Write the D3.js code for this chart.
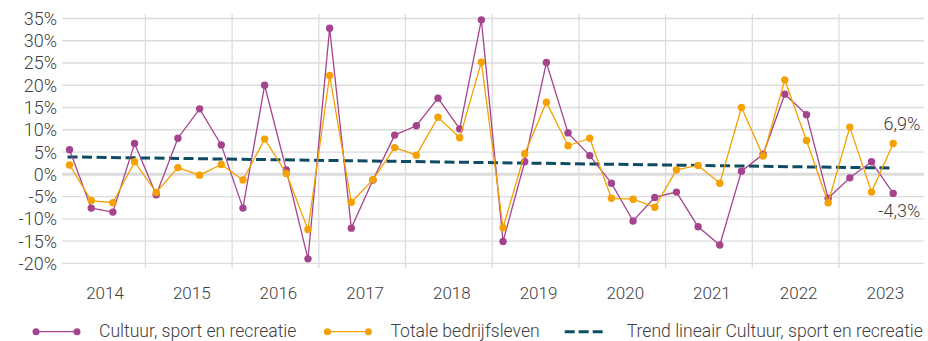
<!DOCTYPE html>
<html>
<head>
<meta charset="utf-8">
<script src="https://cdn.jsdelivr.net/npm/d3@7/dist/d3.min.js"></script>
<style>
  html, body { margin: 0; padding: 0; background: #fff; }
  svg { display: block; font-family: Roboto, "Noto Sans", sans-serif; }
</style>
</head>
<body>
<svg id="chart" width="928" height="341"></svg>
<script>
// Years shown on the category axis; each year holds four quarters
const years = [2014, 2015, 2016, 2017, 2018, 2019, 2020, 2021, 2022, 2023];
const quarters = ["Q1", "Q2", "Q3", "Q4"];

// Quarterly change (%) — Cultuur, sport en recreatie (2014 Q1 .. 2023 Q3)
const cultuur = [
  5.5, -7.6, -8.5, 6.9,
  -4.6, 8.1, 14.7, 6.6,
  -7.6, 20.0, 1.0, -19.0,
  32.8, -12.1, -1.3, 8.8,
  10.9, 17.1, 10.2, 34.7,
  -15.1, 2.8, 25.1, 9.3,
  4.2, -2.0, -10.5, -5.2,
  -4.0, -11.8, -15.9, 0.7,
  4.5, 18.0, 13.4, -5.4,
  -0.8, 2.8, -4.3
];

// Quarterly change (%) — Totale bedrijfsleven
const totaal = [
  2.1, -5.9, -6.4, 2.8,
  -4.1, 1.5, -0.2, 2.2,
  -1.3, 7.9, 0.2, -12.4,
  22.2, -6.3, -1.2, 6.0,
  4.3, 12.8, 8.2, 25.2,
  -12.0, 4.6, 16.2, 6.4,
  8.1, -5.4, -5.6, -7.4,
  1.0, 2.0, -2.0, 15.0,
  4.1, 21.2, 7.6, -6.4,
  10.6, -4.0, 6.9
];

// Linear trend of Cultuur, sport en recreatie: value at first and last quarter
const trendEnds = [3.9, 1.4];

// Value axis ticks (%)
const yTicks = [35, 30, 25, 20, 15, 10, 5, 0, -5, -10, -15, -20];

const seriesNames = ["Cultuur, sport en recreatie", "Totale bedrijfsleven", "Trend lineair Cultuur, sport en recreatie"];
const colors = { cultuur: "#a4448f", totaal: "#f5a102", trend: "#0e4c63" };

const svg = d3.select("#chart");
const textColor = "#404040";
const gridColor = "#dcdcdc";

const nl = d3.formatLocale({ decimal: ",", thousands: ".", grouping: [3], currency: ["€", ""], minus: "-", percent: "%" });
const fmtTick = v => nl.format("d")(v) + "%";
const fmtVal = nl.format(".1f");

// Quarter slots for the full period
const slots = [];
years.forEach(y => quarters.forEach(q => slots.push(y + "-" + q)));

const plotTop = 18.5, plotBottom = 263.3;
const x = d3.scaleBand().domain(slots).range([58.7, 925.7]).paddingInner(0).paddingOuter(0);
const y = d3.scaleLinear().domain([-20, 35]).range([plotBottom, plotTop]);
const cx = i => x(slots[i]) + x.bandwidth() / 2;

// Horizontal gridlines
svg.append("g").selectAll("line").data(yTicks).join("line")
  .attr("x1", 62).attr("x2", 924)
  .attr("y1", d => y(d)).attr("y2", d => y(d))
  .attr("stroke", gridColor)
  .attr("stroke-width", d => d === 0 ? 3 : 1.3);

// Vertical year separators
const sepYears = years.slice(1);
svg.append("g").selectAll("line").data(sepYears).join("line")
  .attr("x1", d => x(d + "-Q1")).attr("x2", d => x(d + "-Q1"))
  .attr("y1", 14).attr("y2", 268)
  .attr("stroke", gridColor).attr("stroke-width", 1.3);

// Value axis labels
svg.append("g").selectAll("text").data(yTicks).join("text")
  .attr("x", 57).attr("y", d => y(d))
  .attr("dy", "0.36em")
  .attr("text-anchor", "end")
  .attr("font-size", 18).attr("font-weight", 300)
  .attr("fill", textColor)
  .text(fmtTick);

// Year labels, centred on each year's four quarters
svg.append("g").selectAll("text").data(years).join("text")
  .attr("x", d => (x(d + "-Q1") + x(d + "-Q4") + x.bandwidth()) / 2 + 3)
  .attr("y", 299)
  .attr("text-anchor", "middle")
  .attr("font-size", 17).attr("font-weight", 300)
  .attr("fill", textColor)
  .text(d => d);

// Trend line
const lastIdx = cultuur.length - 1;
svg.append("line")
  .attr("x1", cx(0) - 2).attr("x2", cx(lastIdx))
  .attr("y1", y(trendEnds[0])).attr("y2", y(trendEnds[1]))
  .attr("stroke", colors.trend).attr("stroke-width", 3)
  .attr("stroke-dasharray", "10,4.5");

// Series lines and markers
function drawSeries(values, color) {
  const line = d3.line().x((d, i) => cx(i)).y(d => y(d));
  svg.append("path").datum(values)
    .attr("d", line).attr("fill", "none")
    .attr("stroke", color).attr("stroke-width", 1.3);
  svg.append("g").selectAll("circle").data(values).join("circle")
    .attr("cx", (d, i) => cx(i)).attr("cy", d => y(d))
    .attr("r", 3.7).attr("fill", color);
}
drawSeries(cultuur, colors.cultuur);
drawSeries(totaal, colors.totaal);

// Labels for the latest quarter
svg.append("text")
  .attr("x", cx(lastIdx) + 27).attr("y", y(totaal[lastIdx]) - 14)
  .attr("text-anchor", "end").attr("font-size", 18).attr("font-weight", 300)
  .attr("fill", textColor).text(fmtVal(totaal[lastIdx]) + "%");
svg.append("text")
  .attr("x", cx(lastIdx) + 27).attr("y", y(cultuur[lastIdx]) + 23.5)
  .attr("text-anchor", "end").attr("font-size", 18).attr("font-weight", 300)
  .attr("fill", textColor).text(fmtVal(cultuur[lastIdx]) + "%");

// Legend
const legend = svg.append("g");
const legendY = 331.7;
let lx = 36;
const items = [
  { name: seriesNames[0], color: colors.cultuur, type: "marker", gapAfter: 31 },
  { name: seriesNames[1], color: colors.totaal, type: "marker", gapAfter: 25 },
  { name: seriesNames[2], color: colors.trend, type: "dash", gapAfter: 0 }
];
items.forEach(it => {
  const g = legend.append("g");
  if (it.type === "marker") {
    g.append("line").attr("x1", lx).attr("x2", lx + 41).attr("y1", legendY).attr("y2", legendY)
      .attr("stroke", it.color).attr("stroke-width", 1.3);
    g.append("circle").attr("cx", lx).attr("cy", legendY).attr("r", 3.5).attr("fill", it.color);
    g.append("circle").attr("cx", lx + 41).attr("cy", legendY).attr("r", 3.5).attr("fill", it.color);
  } else {
    g.append("line").attr("x1", lx).attr("x2", lx + 38).attr("y1", legendY).attr("y2", legendY)
      .attr("stroke", it.color).attr("stroke-width", 3).attr("stroke-dasharray", "10,4");
  }
  const offset = it.type === "marker" ? 63 : 62;
  const t = g.append("text")
    .attr("x", lx + offset).attr("y", legendY + 5.5)
    .attr("font-size", 17.6).attr("font-weight", 300)
    .attr("fill", textColor).text(it.name);
  const w = t.node().getComputedTextLength();
  lx = lx + offset + w + it.gapAfter;
});
</script>
</body>
</html>
